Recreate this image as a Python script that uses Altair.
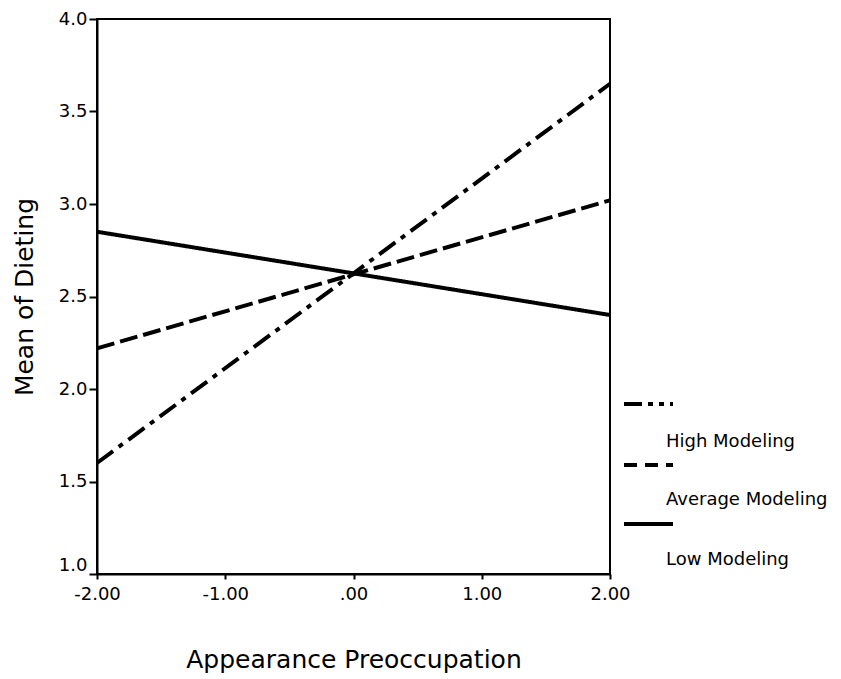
import altair as alt
import pandas as pd

# ---- data ----
x_vals = [-2.0, 2.0]
high_vals = [1.60, 3.65]
average_vals = [2.22, 3.02]
low_vals = [2.85, 2.40]
series_names = ["High Modeling", "Average Modeling", "Low Modeling"]
x_ticks = [-2, -1, 0, 1, 2]
y_ticks = [1.0, 1.5, 2.0, 2.5, 3.0, 3.5, 4.0]

FONT = "DejaVu Sans"

rows = []
for name, vals in zip(series_names, [high_vals, average_vals, low_vals]):
    for x, y in zip(x_vals, vals):
        rows.append({"x": x, "y": y, "series": name})
df = pd.DataFrame(rows)

x_enc = alt.X(
    "x:Q",
    scale=alt.Scale(domain=[-2, 2], nice=False, zero=False),
    axis=alt.Axis(
        values=x_ticks,
        labelExpr="(datum.value < 0 ? '-' : '') + (datum.value == 0 ? '.00' : format(abs(datum.value), '.2f'))",
        title="Appearance Preoccupation",
        titleFontSize=25, titleFontWeight="normal", titleFont=FONT,
        titleX=256.5, titleY=93, titleBaseline="alphabetic", titleAnchor="middle",
        labelFontSize=18, labelFont=FONT, labelColor="black", labelPadding=6,
        tickSize=5, tickWidth=2, tickColor="black",
        domainColor="black", domainWidth=2, grid=False, labelFlush=False,
    ),
)
y_enc = alt.Y(
    "y:Q",
    scale=alt.Scale(domain=[1, 4], nice=False, zero=False),
    axis=alt.Axis(
        values=y_ticks, format=".1f",
        title="Mean of Dieting",
        titleFontSize=25, titleFontWeight="normal", titleFont=FONT,
        titleX=-65, titleY=277.5, titleAngle=-90, titleBaseline="alphabetic",
        titleAlign="center",
        labelFontSize=18, labelFont=FONT, labelColor="black", labelPadding=2,
        labelBaseline={"condition": {"test": "datum.value == 1", "value": "bottom"}, "value": "middle"},
        tickSize=8, tickWidth=2, tickColor="black",
        domainColor="black", domainWidth=2, grid=False, labelFlush=False,
    ),
)

dashes = {"High Modeling": [20, 7, 5, 7], "Average Modeling": [18, 6], "Low Modeling": [1, 0]}
legend_dashes = {"High Modeling": [18, 6, 5, 6, 5, 6], "Average Modeling": [13, 8], "Low Modeling": [1, 0]}

layers = []
for name in series_names:
    layers.append(
        alt.Chart(df)
        .transform_filter(alt.datum.series == name)
        .mark_line(color="black", strokeWidth=4, strokeDash=dashes[name], strokeCap="butt")
        .encode(x=x_enc, y=y_enc)
    )

leg_df = pd.DataFrame({"label": series_names})
sym_y = [385, 446, 505]
txt_y = [423, 481, 541]
for i, name in enumerate(series_names):
    one = leg_df[leg_df["label"] == name]
    layers.append(
        alt.Chart(one)
        .mark_rule(color="black", strokeWidth=4, strokeDash=legend_dashes[name], strokeCap="butt")
        .encode(x=alt.value(527), x2=alt.value(576), y=alt.value(sym_y[i]))
    )
    layers.append(
        alt.Chart(one)
        .mark_text(font=FONT, fontSize=18, color="black", align="left", baseline="middle")
        .encode(text="label:N", x=alt.value(569), y=alt.value(txt_y[i]))
    )

chart = (
    alt.layer(*layers)
    .properties(
        width=513, height=555,
        autosize=alt.AutoSizeParams(type="none"),
        padding={"left": 97, "top": 19, "right": 231, "bottom": 105},
        background="white",
    )
    .configure_view(stroke="black", strokeWidth=2)
)

chart.save("out.html", embed_options={"renderer": "svg", "actions": False})
